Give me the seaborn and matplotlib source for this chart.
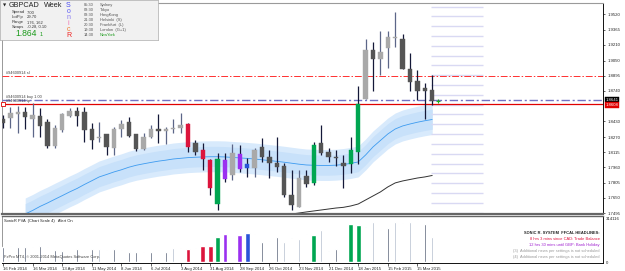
import numpy as np
import pandas as pd
import matplotlib
matplotlib.use("Agg")
import matplotlib.pyplot as plt
import seaborn as sns

# ---------------- data ----------------
opens = [1.8454, 1.8461, 1.8505, 1.8529, 1.8451, 1.8485, 1.8421, 1.8179, 1.8342, 1.8485,
         1.8539, 1.8529, 1.8349, 1.8257, 1.8301, 1.8155, 1.8349, 1.8427, 1.8301, 1.8145,
         1.8274, 1.8349, 1.8335, 1.8352, 1.8365, 1.8403, 1.8206, 1.8138, 1.8036, 1.7587,
         1.8036, 1.7883, 1.8094, 1.7951, 1.7958, 1.8166, 1.8070, 1.8002, 1.7975, 1.7679,
         1.7560, 1.7873, 1.7798, 1.8213, 1.8121, 1.8070, 1.8002, 1.7995, 1.8115, 1.8655,
         1.9158, 1.9066, 1.9181, 1.9277, 1.9267, 1.8964, 1.8842, 1.8767, 1.8750]
highs = [1.8495, 1.8580, 1.8587, 1.8580, 1.8620, 1.8563, 1.8451, 1.8393, 1.8518, 1.8569,
         1.8580, 1.8580, 1.8410, 1.8427, 1.8301, 1.8376, 1.8444, 1.8478, 1.8301, 1.8314,
         1.8393, 1.8505, 1.8376, 1.8451, 1.8518, 1.8416, 1.8240, 1.8213, 1.8043, 1.8104,
         1.8110, 1.8199, 1.8189, 1.8053, 1.8155, 1.8257, 1.8138, 1.8274, 1.8002, 1.7934,
         1.7934, 1.7934, 1.8223, 1.8393, 1.8155, 1.8138, 1.8087, 1.8274, 1.8791, 1.9267,
         1.9237, 1.9352, 1.9352, 1.9549, 1.9318, 1.9130, 1.8954, 1.8818, 1.8903]
lows = [1.8362, 1.8359, 1.8311, 1.8349, 1.8268, 1.8274, 1.8155, 1.8155, 1.8325, 1.8472,
        1.8383, 1.8223, 1.8145, 1.8223, 1.8087, 1.8087, 1.8268, 1.8274, 1.8131, 1.8138,
        1.8257, 1.8206, 1.8199, 1.8308, 1.8314, 1.8121, 1.8087, 1.7934, 1.7679, 1.7526,
        1.7815, 1.7832, 1.7917, 1.7860, 1.7860, 1.8019, 1.7849, 1.7917, 1.7662, 1.7526,
        1.7560, 1.7764, 1.7781, 1.8087, 1.8019, 1.7975, 1.7750, 1.7907, 1.7995, 1.8655,
        1.8743, 1.8903, 1.8971, 1.9186, 1.8964, 1.8743, 1.8648, 1.8454, 1.8597]
closes = [1.8413, 1.8512, 1.8529, 1.8472, 1.8495, 1.8386, 1.8179, 1.8359, 1.8505, 1.8536,
          1.8488, 1.8342, 1.8240, 1.8274, 1.8166, 1.8352, 1.8403, 1.8281, 1.8145, 1.8268,
          1.8352, 1.8332, 1.8352, 1.8365, 1.8393, 1.8172, 1.8121, 1.8043, 1.7753, 1.8043,
          1.7842, 1.8110, 1.7944, 1.7992, 1.8138, 1.8064, 1.8002, 1.7968, 1.7679, 1.7577,
          1.7849, 1.7791, 1.8189, 1.8104, 1.8064, 1.8053, 1.7975, 1.8138, 1.8607, 1.9158,
          1.9066, 1.9141, 1.9294, 1.9294, 1.8964, 1.8835, 1.8740, 1.8743, 1.8641]
candle_kind = ["dn", "up", "up", "dn", "up", "dn", "dn", "up", "up", "up",
               "dn", "dn", "dn", "up", "dn", "up", "up", "dn", "dn", "up",
               "up", "dn", "up", "up", "up", "red", "dn", "red", "red", "green",
               "purple", "up", "purple", "blue", "up", "dn", "dn", "dn", "dn", "dn",
               "up", "dn", "green", "dn", "dn", "dn", "dn", "green", "green", "up",
               "dn", "up", "up", "up", "dn", "dn", "dn", "dn", "dn"]
volumes = [111800, 119100, 111800, 107400, 111800, 119100, 107400, 87700, 80400, 70900,
           95000, 87700, 92800, 92800, 87700, 95000, 85500, 75200, 70900, 75200,
           73000, 87700, 75200, 102300, 100100, 95000, 100100, 114700, 116900, 182600,
           202300, 173100, 195000, 214000, 202300, 146100, 153400, 182600, 148300, 173100,
           168000, 202300, 195000, 233800, 82500, 95000, 182600, 275400, 270300, 253500,
           290000, 233800, 246200, 290000, 287100, 292200, 314116, 277600, 182600]
volume_kind = ["dk", "lt", "dk", "dk", "lt", "dk", "lt", "dk", "dk", "lt",
               "dk", "lt", "dk", "lt", "lt", "dk", "lt", "dk", "dk", "lt",
               "dk", "lt", "dk", "lt", "lt", "red", "lt", "red", "red", "green",
               "purple", "lt", "purple", "blue", "lt", "dk", "lt", "dk", "lt", "dk",
               "lt", "lt", "green", "lt", "dk", "dk", "lt", "green", "green", "dk",
               "lt", "lt", "dk", "lt", "lt", "lt", "dk", "dk", "lt"]
# Sonic dragon (starts at bar 3)
dragon_start = 3
dragon_mid = [1.7485, 1.7521, 1.7562, 1.7597, 1.7635, 1.7672, 1.7710, 1.7745, 1.7786, 1.7824,
              1.7863, 1.7888, 1.7914, 1.7936, 1.7962, 1.7982, 1.7997, 1.8011, 1.8024, 1.8034,
              1.8046, 1.8053, 1.8060, 1.8064, 1.8067, 1.8069, 1.8069, 1.8067, 1.8062, 1.8057,
              1.8052, 1.8046, 1.8038, 1.8030, 1.8022, 1.8013, 1.8003, 1.7993, 1.7985, 1.7982,
              1.7980, 1.7980, 1.7983, 1.7990, 1.8001, 1.8016, 1.8087, 1.8169, 1.8235, 1.8301,
              1.8352, 1.8383, 1.8403, 1.8421, 1.8436, 1.8449]
dragon_up = [1.7648, 1.7684, 1.7725, 1.7760, 1.7798, 1.7835, 1.7873, 1.7908, 1.7949, 1.7987,
             1.8026, 1.8051, 1.8077, 1.8099, 1.8125, 1.8145, 1.8160, 1.8174, 1.8187, 1.8197,
             1.8209, 1.8216, 1.8223, 1.8227, 1.8230, 1.8232, 1.8232, 1.8230, 1.8225, 1.8220,
             1.8215, 1.8209, 1.8201, 1.8193, 1.8185, 1.8176, 1.8166, 1.8156, 1.8148, 1.8145,
             1.8143, 1.8143, 1.8146, 1.8153, 1.8164, 1.8179, 1.8250, 1.8332, 1.8398, 1.8464,
             1.8515, 1.8546, 1.8566, 1.8584, 1.8599, 1.8612]
dragon_dn = [1.7332, 1.7368, 1.7409, 1.7444, 1.7482, 1.7519, 1.7557, 1.7592, 1.7633, 1.7671,
             1.7710, 1.7735, 1.7761, 1.7783, 1.7809, 1.7829, 1.7844, 1.7858, 1.7871, 1.7881,
             1.7893, 1.7900, 1.7907, 1.7911, 1.7914, 1.7916, 1.7916, 1.7914, 1.7909, 1.7904,
             1.7899, 1.7893, 1.7885, 1.7877, 1.7869, 1.7860, 1.7850, 1.7840, 1.7832, 1.7829,
             1.7827, 1.7827, 1.7830, 1.7837, 1.7848, 1.7863, 1.7934, 1.8016, 1.8082, 1.8148,
             1.8199, 1.8230, 1.8250, 1.8268, 1.8283, 1.8296]
trend_start = 39
trend_ema = [1.7485, 1.7495, 1.7506, 1.7516, 1.7526, 1.7536, 1.7546, 1.7553, 1.7567, 1.7587,
             1.7628, 1.7669, 1.7710, 1.7761, 1.7802, 1.7822, 1.7837, 1.7852, 1.7863, 1.7878]
round_levels = [1.75, 1.76, 1.77, 1.78, 1.79, 1.80, 1.81, 1.82, 1.83, 1.84, 1.85,
                1.86, 1.87, 1.88, 1.89, 1.90, 1.91, 1.92, 1.93, 1.94, 1.95, 1.96]
sl_level = 1.8895
buy_level = 1.8648
red_level = 1.8608
price_ticks = [1.9520, 1.9365, 1.9210, 1.9050, 1.8895, 1.8740, 1.8430,
               1.8270, 1.8115, 1.7960, 1.7805, 1.7650, 1.7495]
date_tick_pos = [0, 4, 8, 12, 16, 20, 24, 28, 32, 36, 40, 44, 48, 52, 56]
date_labels = ["16 Feb 2014", "16 Mar 2014", "13 Apr 2014", "11 May 2014", "8 Jun 2014",
               "6 Jul 2014", "3 Aug 2014", "31 Aug 2014", "28 Sep 2014", "26 Oct 2014",
               "23 Nov 2014", "21 Dec 2014", "18 Jan 2015", "15 Feb 2015", "15 Mar 2015"]
vol_max = 314116

# ---------------- style ----------------
sns.set_theme(style="white")
plt.rcParams['font.family'] = ['Liberation Sans', 'DejaVu Sans']

body_col = {"up": "#a9a9a9", "dn": "#555555", "red": "#dc143c", "green": "#00a651",
            "purple": "#9b30f0", "blue": "#2a55d8"}
wick_col = {"up": "#5c6688", "dn": "#141838", "red": "#141838", "green": "#141838",
            "purple": "#141838", "blue": "#141838"}
vol_col = {"dk": "#3e4a62", "lt": "#a9b5c6", "red": "#dc143c", "green": "#00a651",
           "purple": "#9b30f0", "blue": "#2a55d8"}

W, H = 625, 271
fig = plt.figure(figsize=(W / 100, H / 100), dpi=100)
fig.patch.set_facecolor("white")

def px_axes(x0, y0, x1, y1):
    return fig.add_axes([x0 / W, 1 - y1 / H, (x1 - x0) / W, (y1 - y0) / H])

ax = px_axes(2, 3, 603, 214)
axv = px_axes(2, 216, 603, 263)

n = len(opens)
idx = np.arange(n)
xlim = (-0.135, 81.08)

df = pd.DataFrame({"i": idx, "o": opens, "h": highs, "l": lows, "c": closes, "k": candle_kind})

# dragon band
d_idx = np.arange(dragon_start, dragon_start + len(dragon_mid))
up_arr = np.array(dragon_up); dn_arr = np.array(dragon_dn); mid_arr = np.array(dragon_mid)
ax.fill_between(d_idx, dn_arr, up_arr, color="#d8eafc", lw=0, zorder=1)
ax.fill_between(d_idx, mid_arr - (mid_arr - dn_arr) * 0.65, mid_arr + (up_arr - mid_arr) * 0.65,
                color="#c8e1fa", lw=0, zorder=1)
sns.lineplot(x=d_idx, y=mid_arr, ax=ax, color="#3d9bf0", lw=0.6, zorder=2)
t_idx = np.arange(trend_start, trend_start + len(trend_ema))
sns.lineplot(x=t_idx, y=trend_ema, ax=ax, color="#333333", lw=0.7, zorder=2)

# round level dashes
ax.hlines(round_levels, 57.8, 64.9, color="#d9d9f3", lw=1.0, zorder=1)

# horizontal order lines
ax.axhline(sl_level, color="#ff3030", lw=0.7, ls=(0, (7, 2, 1.5, 2)), zorder=3)
ax.axhline(buy_level, color="#7272c4", lw=1.0, ls=(0, (6, 2, 1.5, 2)), zorder=3)
ax.axhline(red_level, color="#e00000", lw=0.9, zorder=3)
ax.plot([0.05], [red_level], marker="s", ms=2.2, mfc="white", mec="#e00000", mew=0.6, zorder=6, clip_on=False)
ax.text(0.4, sl_level + 0.0012, "#94600914 sl", fontsize=2.8, color="#404040", va="bottom", zorder=5)
ax.text(0.4, buy_level + 0.0012, "#94600914 buy 1.00", fontsize=2.8, color="#404040", va="bottom", zorder=5)
ax.text(0.4, red_level + 0.0008, "#94600914 tp", fontsize=2.8, color="#404040", va="bottom", zorder=5)

# candles
ax.vlines(df.i, df.l, df.h, colors=[wick_col[k] for k in df.k], lw=0.9, zorder=4)
bottoms = np.minimum(df.o, df.c)
heights = np.maximum(np.abs(df.c - df.o), 0.00035)
ax.bar(df.i, heights, bottom=bottoms, width=0.62, color=[body_col[k] for k in df.k],
       edgecolor=[body_col[k] for k in df.k], lw=0.3, zorder=5)
ax.plot([58.8], [closes[-1]], marker="+", ms=2.5, color="#20b020", mew=0.8, zorder=6)

ax.set_xlim(*xlim)
ax.set_ylim(1.7485, 1.9637)
ax.set_xticks([])
ax.yaxis.tick_right()
ax.set_yticks(price_ticks)
ax.set_yticklabels([f"{v:.4f}" for v in price_ticks])
ax.tick_params(axis="y", which="both", right=True, length=1.5, width=0.5, pad=1.5,
               labelsize=3.1, colors="#222222")
ax.set_xlabel(""); ax.set_ylabel("")
for s in ["left"]:
    ax.spines[s].set_color("#888888"); ax.spines[s].set_linewidth(0.6)
ax.spines["top"].set_color("#9a9a9a"); ax.spines["top"].set_linewidth(0.8)
ax.spines["right"].set_color("#111111"); ax.spines["right"].set_linewidth(0.7)
ax.spines["bottom"].set_color("#666666"); ax.spines["bottom"].set_linewidth(1.6)

# price boxes
ax.annotate(f"{closes[-1]:.4f}", xy=(1.0, closes[-1]), xycoords=("axes fraction", "data"),
            xytext=(2, 0.6), textcoords="offset points", fontsize=3.1, color="white",
            va="center", ha="left", zorder=10, annotation_clip=False,
            bbox=dict(boxstyle="square,pad=0.15", fc="black", ec="black", lw=0.3))
ax.annotate(f"{red_level:.4f}", xy=(1.0, red_level), xycoords=("axes fraction", "data"),
            xytext=(2, -0.8), textcoords="offset points", fontsize=3.1, color="white",
            va="center", ha="left", zorder=10, annotation_clip=False,
            bbox=dict(boxstyle="square,pad=0.15", fc="#e00000", ec="#e00000", lw=0.3))

# volume panel
vdf = pd.DataFrame({"i": idx, "v": volumes, "k": volume_kind})
gray = vdf[vdf.k.isin(["dk", "lt"])]
colr = vdf[~vdf.k.isin(["dk", "lt"])]
sns.barplot(data=gray, x="i", y="v", hue="k", palette=vol_col, native_scale=True, width=0.22,
            dodge=False, legend=False, saturation=1, errorbar=None, ax=axv, zorder=3)
sns.barplot(data=colr, x="i", y="v", hue="k", palette=vol_col, native_scale=True, width=0.66,
            dodge=False, legend=False, saturation=1, errorbar=None, ax=axv, zorder=3)
axv.set_xlim(*xlim)
axv.set_ylim(-7305, 336030)
axv.set_xlabel(""); axv.set_ylabel("")
axv.yaxis.tick_right()
axv.set_yticks([0, vol_max])
axv.set_yticklabels(["0", str(vol_max)])
axv.tick_params(axis="y", right=True, length=0, pad=2, labelsize=3.1, colors="#222222")
axv.set_xticks(date_tick_pos)
axv.set_xticklabels(date_labels)
axv.tick_params(axis="x", bottom=True, length=1.8, width=0.5, pad=0.8, labelsize=3.1,
                colors="#222222", direction="out")
for lab in axv.get_xticklabels():
    lab.set_ha("left")
axv.spines["left"].set_color("#888888"); axv.spines["left"].set_linewidth(0.6)
axv.spines["top"].set_color("#666666"); axv.spines["top"].set_linewidth(1.0)
axv.spines["right"].set_color("#111111"); axv.spines["right"].set_linewidth(0.7)
axv.spines["bottom"].set_color("#111111"); axv.spines["bottom"].set_linewidth(0.7)

axv.text(0.003, 0.93, "SonicR PVA  (Chart Scale 4)   Alert On", transform=axv.transAxes,
         fontsize=2.9, color="#222222", va="top", ha="left")
axv.text(0.003, 0.08, "FxPro MT4, © 2001-2014 MetaQuotes Software Corp.", transform=axv.transAxes,
         fontsize=2.9, color="#444444", va="bottom", ha="left")
news = [("SONIC R. SYSTEM  FFCAL HEADLINES:", "#222222", "bold"),
        ("8 hrs 3 mins since CAD: Trade Balance", "#e0103c", "normal"),
        ("12 hrs 30 mins until GBP: Bank Holiday", "#a020d0", "normal"),
        ("(3)  Additional news per settings is not scheduled", "#9a9a9a", "normal"),
        ("(4)  Additional news per settings is not scheduled", "#9a9a9a", "normal")]
for j, (txt, col, wgt) in enumerate(news):
    axv.text(0.995, 0.63 - j * 0.125, txt, transform=axv.transAxes, fontsize=2.9,
             color=col, fontweight=wgt, ha="right", va="center")

# info panel
ip = px_axes(0, 0, 158, 40)
ip.set_facecolor("#f1f1f1")
ip.set_xlim(0, 158); ip.set_ylim(40, 0)
ip.set_xticks([]); ip.set_yticks([])
for s in ip.spines.values():
    s.set_color("#b8b8b8"); s.set_linewidth(0.6)
ip.text(2.5, 5.5, "▼", fontsize=3, color="#222222", va="center", family="DejaVu Sans")
ip.text(8.5, 5.8, "GBPCAD", fontsize=5.2, color="#222222", va="center")
ip.text(44, 5.8, "Week", fontsize=5.2, color="#222222", va="center")
for j, (k, v) in enumerate([("Spread", "7.00"), ("LotPip", "29.70"), ("Range", "176, 162"),
                            ("Swaps", "-0.28, 0.10")]):
    ip.text(12, 12.5 + j * 4.8, k, fontsize=3.0, color="#333333", va="center")
    ip.text(27, 12.5 + j * 4.8, v, fontsize=3.0, color="#333333", va="center")
ip.text(15, 34, "1.864", fontsize=6.2, color="#1a9a1a", va="center")
ip.text(39.5, 34.8, "1", fontsize=4.0, color="#1a9a1a", va="center")
for j, (ch, col) in enumerate([("S", "#4848f0"), ("o", "#5a5af8"), ("n", "#8a7af0"),
                               ("i", "#f070b0"), ("c", "#f07a30"), ("R", "#f02020")]):
    ip.text(68.5, 5.5 + j * 6.0, ch, fontsize=5.0, color=col, va="center", ha="center")
sessions = [("05:30", "Sydney"), ("03:30", "Tokyo"), ("03:30", "HongKong"),
            ("21:30", "Helsinki  (S)"), ("20:30", "Frankfurt  (L)"),
            ("19:30", "London  (G+1)"), ("14:30", "NewYork")]
for j, (t, c) in enumerate(sessions):
    col = "#1a9a1a" if c == "NewYork" else "#555555"
    ip.text(84, 5.0 + j * 5.05, t, fontsize=2.9, color="#555555", va="center")
    ip.text(100, 5.0 + j * 5.05, c, fontsize=2.9, color=col, va="center")

fig.savefig("out.png", dpi=100, facecolor="white")
